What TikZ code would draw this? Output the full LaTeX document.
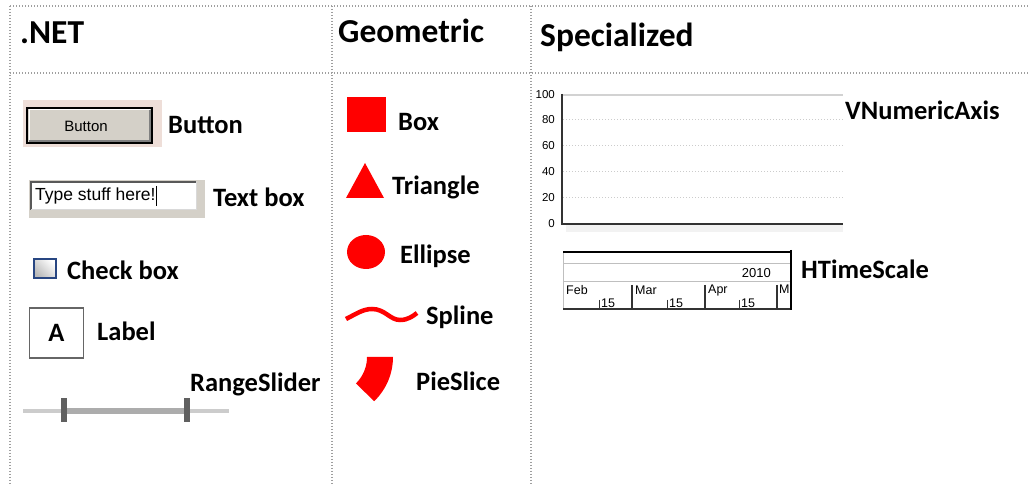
\documentclass[tikz,border=0pt]{standalone}
\usepackage{fontspec}
\setmainfont{Carlito}
\newfontfamily\arialf{Liberation Sans}
\usetikzlibrary{shapes.geometric}
\definecolor{wingray}{RGB}{212,208,200}
\definecolor{pinkdith}{RGB}{238,222,216}
\definecolor{cbblue}{RGB}{40,70,130}
\definecolor{thumbgray}{RGB}{96,96,96}
\tikzset{
  gridline/.style={draw=gray!75,line width=1.3pt,dash pattern=on 1.2pt off 1.8pt},
  head/.style={anchor=west,inner sep=0pt,font=\fontsize{33.5}{36}\selectfont\bfseries},
  lbl/.style={anchor=west,inner sep=0pt,font=\fontsize{26.5}{30}\selectfont\bfseries},
  tick/.style={anchor=east,inner sep=0pt,font=\arialf\fontsize{11.5}{12}\selectfont},
  tsl/.style={anchor=west,inner sep=0pt,font=\arialf\fontsize{12.5}{13}\selectfont},
  redshape/.style={fill=red,draw=none}
}
\begin{document}
\begin{tikzpicture}[x=1pt,y=-1pt]
\useasboundingbox (0,0) rectangle (1029,486);
% grid
\coordinate (g1) at (10,6); \coordinate (g2) at (1029,6);
\coordinate (g3) at (10,73); \coordinate (g4) at (1029,73);
\draw[gridline] (g1) -- (g2);
\draw[gridline] (g3) -- (g4);
\draw[gridline] (10,6) -- (10,486);
\draw[gridline] (332,6) -- (332,486);
\draw[gridline] (531,6) -- (531,486);
% headers
\node[head] (hnet) at (20,33) {.NET};
\node[head] (hgeo) at (338,31) {Geometric};
\node[head] (hspec) at (540,37) {Specialized};
% Button
\fill[pinkdith] (23,100) rectangle (162,147);
\fill[wingray] (27,108) rectangle (152,143);
\draw[white,line width=1pt] (29,141) -- (29,110) -- (150,110);
\draw[gray,line width=1.5pt] (29,141) -- (150,141) -- (150,110);
\draw[black,line width=1.5pt] (27,108) rectangle (152,143);
\node[inner sep=0pt,font=\arialf\fontsize{15}{16}\selectfont] (btn) at (86,126) {Button};
\node[lbl] (lbutton) at (168,125) {Button};
% Text box
\fill[wingray] (29,180) rectangle (205,218);
\fill[white] (31,182) rectangle (196,210);
\draw[gray!70!black,line width=1.5pt] (31,210) -- (31,182) -- (196,182);
\draw[gray!30,line width=1pt] (31,210) -- (196,210) -- (196,182);
\node[tsl,font=\arialf\fontsize{17.5}{18}\selectfont] (tbtext) at (35,196) {Type stuff here!};
\draw[black,line width=0.9pt] (tbtext.east) ++(1,-10) -- ++(0,20);
\node[lbl] (ltextbox) at (213,197) {Text box};
% Check box
\shade[left color=gray!55,right color=white,shading angle=135] (34,259) rectangle (56,278);
\draw[cbblue,line width=1.2pt] (34,259) rectangle (56,278);
\node[lbl] (lcheck) at (67,270) {Check box};
% Label
\node[draw=gray!80!black,line width=1.6pt,fill=white,minimum width=54pt,minimum height=50pt,inner sep=0pt,font=\fontsize{26.5}{30}\selectfont\bfseries] (labA) at (56.5,333) {A};
\node[lbl] (llabel) at (97,331) {Label};
% RangeSlider
\node[lbl] (lrange) at (190,384) {RangeSlider};
\coordinate (sa) at (23,411); \coordinate (sb) at (229,411);
\coordinate (sc) at (64,411); \coordinate (sd) at (187,411);
\draw[gray!40,line width=4pt] (sa) -- (sb);
\draw[gray!65,line width=6pt] (sc) -- (sd);
\fill[thumbgray] (61,398) rectangle (67,422);
\fill[thumbgray] (184,398) rectangle (190,422);
% Geometric
\fill[redshape] (347,97) rectangle (386,132);
\node[lbl] (lbox) at (398,122) {Box};
\fill[redshape] (365,163) -- (384,198) -- (346,198) -- cycle;
\node[lbl] (ltri) at (392,187) {Triangle};
\fill[redshape] (366,252) ellipse [x radius=19,y radius=17];
\node[lbl] (lell) at (400,256) {Ellipse};
\draw[red,line width=4.5pt] (346,319) .. controls (356,314) and (363,309) .. (372,309) .. controls (385,309) and (390,320) .. (400,320) .. controls (408,320) and (413,316) .. (417,313);
\node[lbl] (lspline) at (426,317) {Spline};
\fill[redshape] plot[domain=0:45.5,samples=24] ({330+63*cos(\x)},{357+62*sin(\x)}) -- plot[domain=45.5:0,samples=24] ({330+37*cos(\x)},{357+37*sin(\x)}) -- cycle;
\node[lbl] (lpie) at (416,381) {PieSlice};
% VNumericAxis
\fill[gray!10] (566,225) rectangle (843,232);
\draw[gray!35,line width=1.2pt] (562,95) -- (843,95);
\foreach \yy in {120,146,172,198} {
  \draw[gray!40,line width=1pt,dash pattern=on 1.2pt off 1.8pt] (563,\yy) -- (843,\yy);
}
\draw[black!80,line width=2pt] (562,94) -- (562,224) -- (843,224);
\node[tick] (t100) at (555,95) {100};
\node[tick] (t80) at (555,120) {80};
\node[tick] (t60) at (555,146) {60};
\node[tick] (t40) at (555,172) {40};
\node[tick] (t20) at (555,198) {20};
\node[tick] (t0) at (555,224) {0};
\node[lbl] (lvnum) at (845,110) {VNumericAxis};
% HTimeScale
\fill[white] (563,252) rectangle (791,309);
\draw[gray!50,line width=1pt] (563,252) -- (563,309);
\draw[gray!50,line width=1pt] (563,264) -- (791,264);
\draw[gray!50,line width=1pt] (563,282) -- (791,282);
\node[anchor=east,inner sep=0pt,font=\arialf\fontsize{13}{14}\selectfont] (y2010) at (771,273) {2010};
\begin{scope}
\clip (563,283) rectangle (790,309);
\node[tsl] (mfeb) at (566,290) {Feb};
\node[tsl] (mmar) at (635,290) {Mar};
\node[tsl] (mapr) at (708,290) {Apr};
\node[tsl] (mmay) at (779,290) {May};
\node[tsl] (d1) at (601,303) {15};
\node[tsl] (d2) at (669,303) {15};
\node[tsl] (d3) at (741,303) {15};
\end{scope}
\foreach \xx in {632,705,777} { \draw[black!80,line width=1.2pt] (\xx,285) -- (\xx,309); }
\foreach \xx in {599,667,739} { \draw[black!80,line width=1pt] (\xx,300) -- (\xx,309); }
\draw[black!80,line width=1.5pt] (563,309) -- (791,309);
\draw[black,line width=2.5pt] (563,252) -- (791,252);
\draw[black,line width=2.5pt] (791,250) -- (791,310);
\node[lbl] (lhts) at (801,269) {HTimeScale};
\end{tikzpicture}
\end{document}
